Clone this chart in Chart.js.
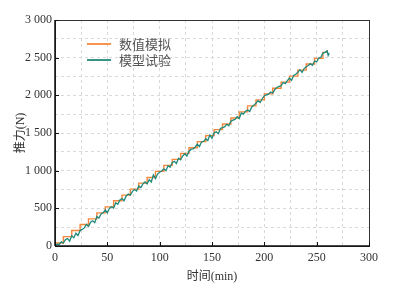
<!DOCTYPE html>
<html>
<head>
<meta charset="utf-8">
<script src="https://cdn.jsdelivr.net/npm/chart.js@4/dist/chart.umd.min.js"></script>
<style>
  html, body { margin: 0; padding: 0; background: #fff; }
  canvas { display: block; }
</style>
</head>
<body>
<canvas id="thrustChart" width="398" height="288"></canvas>
<script>
// series labels
const seriesNames = ['数值模拟', '模型试验'];

// numerical simulation (stepped)
const simTime = [0, 8, 16, 24, 32, 40, 48, 56, 64, 72, 80, 88, 96, 104, 112, 120, 128, 136,
  144, 152, 160, 168, 176, 184, 192, 200, 208, 216, 224, 232, 240, 248, 256, 260];
const simThrust = [40, 125, 205, 285, 360, 440, 520, 600, 675, 755, 835, 910, 990, 1070, 1150, 1230,
  1305, 1385, 1465, 1545, 1620, 1700, 1780, 1860, 1940, 2020, 2095, 2175, 2255, 2335, 2415, 2490, 2570, 2600];

// model test (measured)
const testTime = [0, 2, 4, 6, 8, 10, 12, 14, 16, 18, 20, 22, 24, 26, 28, 30, 32, 34, 36, 38, 40,
  42, 44, 46, 48, 50, 52, 54, 56, 58, 60, 62, 64, 66, 68, 70, 72, 74, 76, 78, 80, 82, 84, 86, 88, 90,
  92, 94, 96, 98, 100, 102, 104, 106, 108, 110, 112, 114, 116, 118, 120, 122, 124, 126, 128, 130,
  132, 134, 136, 138, 140, 142, 144, 146, 148, 150, 152, 154, 156, 158, 160, 162, 164, 166, 168, 170,
  172, 174, 176, 178, 180, 182, 184, 186, 188, 190, 192, 194, 196, 198, 200, 202, 204, 206, 208, 210,
  212, 214, 216, 218, 220, 222, 224, 226, 228, 230, 232, 234, 236, 238, 240, 242, 244, 246, 248, 250,
  252, 254, 256, 258, 260, 261, 262];
const testThrust = [0, 25, 20, 55, 40, 85, 100, 65, 135, 110, 170, 140, 205, 220, 240, 285, 260, 315,
  335, 310, 390, 370, 425, 440, 480, 440, 500, 520, 505, 575, 555, 610, 630, 600, 665, 690, 675, 725,
  750, 730, 795, 775, 825, 850, 825, 880, 850, 945, 895, 955, 980, 1000, 1025, 1000, 1065, 1045, 1105,
  1125, 1095, 1165, 1145, 1195, 1225, 1195, 1255, 1285, 1290, 1315, 1350, 1320, 1380, 1390, 1425,
  1400, 1475, 1430, 1500, 1515, 1490, 1560, 1570, 1580, 1615, 1595, 1655, 1670, 1680, 1715, 1690,
  1765, 1750, 1790, 1805, 1785, 1845, 1870, 1895, 1930, 1905, 1955, 1995, 2005, 2015, 2045, 2030,
  2075, 2105, 2120, 2125, 2170, 2155, 2195, 2230, 2200, 2265, 2280, 2305, 2340, 2305, 2355, 2380,
  2395, 2420, 2400, 2455, 2445, 2495, 2505, 2560, 2570, 2590, 2530, 2560];

// axis ticks
const xTicks = [0, 50, 100, 150, 200, 250, 300];
const yTicks = [0, 500, 1000, 1500, 2000, 2500, 3000];

const orange = '#F7873A';
const teal = '#1F8A7C';
const serif = '"Liberation Serif", "Noto Sans CJK SC", serif';

const toPoints = (xs, ys) => xs.map((x, i) => ({ x: x, y: ys[i] }));

// frame + legend drawn on top
const framePlugin = {
  id: 'frame',
  afterDraw(chart) {
    const { ctx, chartArea: a } = chart;
    ctx.save();
    ctx.strokeStyle = '#333';
    ctx.lineWidth = 1;
    ctx.strokeRect(a.left + 0.5, a.top + 0.5, a.right - a.left, a.bottom - a.top);
    ctx.strokeStyle = '#111';
    ctx.lineWidth = 1.5;
    ctx.beginPath();
    ctx.moveTo(a.left, a.bottom);
    ctx.lineTo(a.right + 1, a.bottom);
    ctx.moveTo(a.left, a.top);
    ctx.lineTo(a.left, a.bottom);
    ctx.stroke();

    // tick marks pointing inward
    const xs = chart.scales.x, ys = chart.scales.y;
    ctx.lineWidth = 1;
    ctx.beginPath();
    xTicks.forEach(v => {
      const px = Math.round(xs.getPixelForValue(v)) + 0.5;
      ctx.moveTo(px, a.bottom);
      ctx.lineTo(px, a.bottom - 4);
    });
    yTicks.forEach(v => {
      const py = Math.round(ys.getPixelForValue(v)) + 0.5;
      ctx.moveTo(a.left, py);
      ctx.lineTo(a.left + 4, py);
    });
    ctx.stroke();

    // legend
    const colors = [orange, teal];
    ctx.font = '13px "Noto Sans CJK SC"';
    ctx.textBaseline = 'middle';
    seriesNames.forEach((name, i) => {
      const y = a.top + 24 + i * 16;
      ctx.strokeStyle = colors[i];
      ctx.lineWidth = 1.8;
      ctx.beginPath();
      ctx.moveTo(a.left + 32, y);
      ctx.lineTo(a.left + 56, y);
      ctx.stroke();
      ctx.fillStyle = '#555';
      ctx.fillText(name, a.left + 64, y);
    });
    ctx.restore();
  }
};

const ctx = document.getElementById('thrustChart').getContext('2d');
new Chart(ctx, {
  type: 'line',
  data: {
    datasets: [{
      label: seriesNames[0],
      data: toPoints(simTime, simThrust),
      borderColor: orange,
      borderWidth: 1.4,
      stepped: 'before',
      pointRadius: 0,
      order: 2
    }, {
      label: seriesNames[1],
      data: toPoints(testTime, testThrust),
      borderColor: teal,
      borderWidth: 1.3,
      tension: 0,
      pointRadius: 0,
      order: 1
    }]
  },
  options: {
    responsive: false,
    animation: false,
    layout: { padding: { top: 20, right: 29, left: 0, bottom: 0 } },
    plugins: {
      legend: { display: false },
      tooltip: { enabled: false }
    },
    scales: {
      x: {
        type: 'linear',
        min: 0,
        max: 300,
        afterFit(scale) { scale.height = 42; },
        ticks: {
          stepSize: 25,
          autoSkip: false,
          maxRotation: 0,
          padding: 5,
          color: '#333',
          font: { family: serif, size: 12 },
          callback: v => (v % 50 === 0 ? String(v) : '')
        },
        grid: {
          color: '#d9d9d9',
          drawTicks: false
        },
        border: { display: false, dash: [3, 3] },
        title: {
          display: true,
          text: '时间(min)',
          color: '#333',
          font: { family: serif, size: 12 },
          padding: { top: 1 }
        }
      },
      y: {
        min: 0,
        max: 3000,
        afterFit(scale) { scale.width = 55; },
        ticks: {
          stepSize: 250,
          autoSkip: false,
          padding: 3,
          color: '#333',
          font: { family: serif, size: 12 },
          callback: v => (v % 500 === 0 ? String(v).replace(/\B(?=(\d{3})+$)/g, ' ') : '')
        },
        grid: {
          color: '#d9d9d9',
          drawTicks: false
        },
        border: { display: false, dash: [3, 3] },
        title: {
          display: true,
          text: '推力(N)',
          color: '#333',
          font: { family: serif, size: 12 },
          padding: { top: 14, bottom: 0 }
        }
      }
    }
  },
  plugins: [framePlugin]
});
</script>
</body>
</html>
